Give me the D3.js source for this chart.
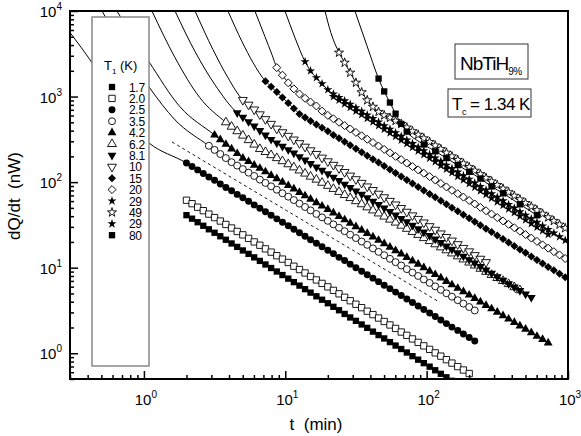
<!DOCTYPE html>
<html>
<head>
<meta charset="utf-8">
<script src="https://d3js.org/d3.v7.min.js"></script>
<style>
  body { margin: 0; background: #fff; }
  text { font-family: "Liberation Sans", Arial, Helvetica, sans-serif; fill: #000; white-space: pre; }
</style>
</head>
<body>
<svg width="581" height="436"></svg>
<script>
// measurement times (min), shared by all runs
const times = [2.00, 2.19, 2.40, 2.63, 2.88, 3.16, 3.47, 3.80, 4.17, 4.57,
  5.01, 5.50, 6.03, 6.61, 7.24, 7.94, 8.71, 9.55, 10.5, 11.5,
  12.6, 13.8, 15.1, 16.6, 18.2, 20.0, 21.9, 24.0, 26.3, 28.8,
  31.6, 34.7, 38.0, 41.7, 45.7, 50.1, 55.0, 60.3, 66.1, 72.4,
  79.4, 87.1, 95.5, 105, 115, 126, 138, 151, 166, 182,
  200, 219, 240, 263, 288, 316, 347, 380, 417, 457,
  501, 550, 603, 661, 724, 794, 871, 955];

// dQ/dt (nW) for each T1, starting at times[start]
const qT1_7 = [41.1, 37.4, 34.0, 30.9, 28.1, 25.6, 23.3, 21.2, 19.2, 17.5, 15.9, 14.5, 13.2, 12.0, 10.9,
  9.91, 9.02, 8.20, 7.45, 6.78, 6.17, 5.61, 5.11, 4.63, 4.22, 3.84, 3.49, 3.18, 2.88, 2.62, 2.39, 2.17,
  1.98, 1.79, 1.63, 1.49, 1.35, 1.23, 1.12, 1.02, 0.925, 0.841, 0.766, 0.697, 0.633, 0.575, 0.524, 0.476];
const qT2_0 = [61.4, 56.0, 50.9, 46.4, 42.3, 38.5, 35.1, 32.0, 29.1, 26.5, 24.2, 22.0, 20.0, 18.3, 16.6,
  15.2, 13.8, 12.6, 11.5, 10.4, 9.51, 8.67, 7.89, 7.19, 6.55, 5.97, 5.43, 4.95, 4.51, 4.11, 3.74, 3.41,
  3.10, 2.83, 2.58, 2.35, 2.14, 1.95, 1.77, 1.62, 1.47, 1.34, 1.22, 1.11, 1.01, 0.925, 0.841, 0.767, 0.698,
  0.637, 0.579];
const qT2_5 = [167, 152, 139, 126, 115, 105, 95.3, 86.7, 79.1, 71.9, 65.5, 59.6, 54.2, 49.4, 45.0, 40.9,
  37.2, 33.9, 30.9, 28.1, 25.6, 23.3, 21.2, 19.3, 17.6, 16.0, 14.6, 13.2, 12.1, 11.0, 10.0, 9.10, 8.28,
  7.55, 6.87, 6.25, 5.69, 5.18, 4.72, 4.30, 3.91, 3.56, 3.24, 2.95, 2.69, 2.44, 2.22, 2.02, 1.85, 1.68,
  1.53, 1.39];
const qT3_5 = [266, 238, 213, 191, 171, 156, 142, 129, 118, 107, 97.9, 89.3, 81.5, 74.1, 67.6, 61.7, 56.1,
  51.2, 46.7, 42.5, 38.7, 35.3, 32.1, 29.3, 26.7, 24.3, 22.2, 20.2, 18.5, 16.8, 15.3, 14.0, 12.7, 11.6,
  10.6, 9.62, 8.77, 8.00, 7.28, 6.64, 6.05, 5.51, 5.02, 4.58, 4.17, 3.80, 3.47, 3.16];
const qT4_2 = [355, 313, 277, 244, 216, 191, 174, 158, 145, 132, 120, 110, 100, 91.2, 83.2, 75.9, 69.2,
  63.1, 57.5, 52.5, 47.9, 43.7, 39.8, 36.3, 33.1, 30.2, 27.5, 25.1, 22.9, 20.9, 19.1, 17.4, 15.8, 14.5,
  13.2, 12.0, 11.0, 10.0, 9.12, 8.32, 7.59, 6.92, 6.31, 5.75, 5.25, 4.79, 4.37, 3.98, 3.63, 3.31, 3.02,
  2.75, 2.51, 2.29, 2.09, 1.91, 1.74, 1.58, 1.45, 1.32];
const qT6_2 = [501, 445, 394, 350, 310, 275, 244, 225, 207, 191, 176, 162, 149, 137, 126, 116, 107, 98.4,
  90.6, 83.4, 76.9, 70.8, 65.2, 60.0, 55.2, 50.8, 46.8, 43.1, 39.6, 36.5, 33.7, 31.0, 28.5, 26.2, 24.2,
  22.2, 20.5, 18.8, 17.3, 16.0, 14.7, 13.6, 12.5, 11.5, 10.6, 9.73, 8.95, 8.24, 7.59, 7.00, 6.44, 5.93, 5.46];
const qT8_1 = [646, 573, 508, 451, 400, 355, 315, 287, 262, 239, 218, 198, 181, 165, 150, 137, 125, 114,
  104, 94.6, 86.3, 78.7, 71.8, 65.5, 59.7, 54.5, 49.7, 45.2, 41.2, 37.6, 34.3, 31.3, 28.5, 26.0, 23.7,
  21.6, 19.7, 17.9, 16.4, 14.9, 13.6, 12.4, 11.3, 10.3, 9.40, 8.57, 7.82, 7.13, 6.50, 5.93, 5.41, 4.92, 4.49];
const qT10 = [912, 802, 705, 619, 544, 479, 421, 382, 347, 314, 285, 259, 235, 213, 193, 175, 159, 145,
  131, 119, 108, 97.9, 88.9, 80.7, 73.1, 66.4, 60.3, 54.7, 49.7, 45.0, 40.8, 37.1, 33.7, 30.5, 27.7, 25.1,
  22.8, 20.7, 18.8, 17.0, 15.5, 14.0, 12.7, 11.6];
const qT15 = [1514, 1306, 1127, 973, 839, 724, 625, 569, 519, 472, 431, 392, 356, 325, 296, 270, 245, 223,
  204, 185, 169, 154, 140, 128, 116, 106, 96.4, 87.7, 80.0, 72.8, 66.4, 60.4, 55.0, 50.1, 45.6, 41.6,
  37.8, 34.4, 31.4, 28.6, 26.1, 23.7, 21.6, 19.7, 17.9, 16.3, 14.9, 13.5, 12.3, 11.2, 10.2, 9.31, 8.47, 7.73];
const qT20 = [2178, 1778, 1445, 1230, 1072, 955, 861, 776, 676, 603, 550, 501, 458, 418, 381, 348, 317,
  290, 264, 241, 220, 200, 183, 167, 152, 139, 127, 116, 106, 96.4, 87.9, 80.2, 73.3, 66.8, 61.0, 55.6,
  50.7, 46.3, 42.3, 38.5, 35.2, 32.1, 29.3, 26.7, 24.4, 22.2, 20.3, 18.5, 16.9, 15.4, 14.1, 12.8];
const qT29a = [2560, 1995, 1660, 1413, 1202, 1072, 977, 891, 813, 741, 673, 611, 555, 504, 457, 416, 378,
  343, 311, 282, 256, 233, 211, 192, 175, 158, 144, 131, 119, 108, 97.7, 88.9, 80.7, 73.3, 66.5, 60.4,
  54.8, 49.8, 45.2, 41.1, 37.3, 33.9, 30.8, 27.9, 25.4, 23.0, 20.9];
const qT49 = [3260, 2490, 1900, 1452, 1122, 905, 759, 663, 604, 565, 520, 479, 435, 394, 358, 325, 295,
  268, 243, 221, 200, 182, 165, 150, 136, 124, 112, 102, 92.5, 83.9, 76.2, 69.2, 62.8, 57.0, 51.8, 47.0,
  42.7, 38.7, 35.2, 31.9, 29.0];
const qT29b = [1000, 908, 822, 746, 676, 614, 557, 505, 458, 415, 377, 342, 310, 281, 255, 231, 210, 190,
  173, 156, 142, 129, 117, 106, 96.0, 87.1, 79.1, 71.6, 65.0, 58.9, 53.5, 48.5, 44.0, 39.9, 36.1, 32.8,
  29.8, 27.0, 24.5];
const qT80 = [1622, 1148, 851, 631, 479, 389, null, null, 275, null, 229, null, 191, null, 158, null, 132,
  null, 110, null, 89, null, 74, null, null, 55, null, null, 41];

// early part of the fitted curves (before the first measured point)
const fitT25 = [0.3, 0.429, 0.796, 1.085], fitQ25 = [5600, 2490, 467, 287];
const fitT35 = [0.505, 1.085, 1.66], fitQ35 = [10000, 1300, 534];
const fitT42 = [0.644, 1.085, 1.80], fitQ42 = [10000, 2560, 759];
const fitT62 = [1.14, 1.66, 2.49], fitQ62 = [10000, 2850, 968];
const fitT81 = [1.66, 2.30, 3.18], fitQ81 = [10000, 3350, 1375];
const fitT10 = [2.30, 3.08, 3.93], fitQ10 = [10000, 3540, 1663];
const fitT15 = [3.93, 4.94, 5.91], fitQ15 = [10000, 4395, 2495];
const fitT20 = [6.10, 7.18, 8.05], fitQ20 = [10000, 5023, 3090];
const fitT29 = [9.95, 11.7], fitQ29 = [10000, 4890];
const fitT49 = [19.1, 21.0], fitQ49 = [10000, 5600];
const fitT80 = [31.1, 37.8], fitQ80 = [10000, 3940];

// t^-1 guide line
const dashT = [1.58, 124], dashQ = [295, 3.93];

const xMajor = [1, 10, 100, 1000];
const yMajor = [1, 10, 100, 1000, 10000];

const series = [
  {label: "1.7", shape: "square", open: false, start: 0, q: qT1_7},
  {label: "2.0", shape: "square", open: true, start: 0, q: qT2_0},
  {label: "2.5", shape: "circle", open: false, start: 0, q: qT2_5, ft: fitT25, fq: fitQ25},
  {label: "3.5", shape: "circle", open: true, start: 4, q: qT3_5, ft: fitT35, fq: fitQ35},
  {label: "4.2", shape: "triUp", open: false, start: 5, q: qT4_2, ft: fitT42, fq: fitQ42},
  {label: "6.2", shape: "triUp", open: true, start: 7, q: qT6_2, ft: fitT62, fq: fitQ62},
  {label: "8.1", shape: "triDown", open: false, start: 9, q: qT8_1, ft: fitT81, fq: fitQ81},
  {label: "10", shape: "triDown", open: true, start: 10, q: qT10, ft: fitT10, fq: fitQ10},
  {label: "15", shape: "diamond", open: false, start: 14, q: qT15, ft: fitT15, fq: fitQ15},
  {label: "20", shape: "diamond", open: true, start: 16, q: qT20, ft: fitT20, fq: fitQ20},
  {label: "29", shape: "star", open: false, start: 21, q: qT29a, ft: fitT29, fq: fitQ29},
  {label: "49", shape: "star", open: true, start: 27, q: qT49, ft: fitT49, fq: fitQ49},
  {label: "29", shape: "star", open: false, start: 26, q: qT29b},
  {label: "80", shape: "square", open: false, start: 34, q: qT80, ft: fitT80, fq: fitQ80}
];

const svg = d3.select("svg");
const plotL = 70, plotR = 568, plotT = 11, plotB = 379;

const x = d3.scaleLog().domain([0.3, 1000]).range([plotL, plotR]);
const y = d3.scaleLog().domain([0.5, 10000]).range([plotB, plotT]);

svg.append("defs").append("clipPath").attr("id", "plotclip")
  .append("rect").attr("x", plotL).attr("y", plotT).attr("width", plotR - plotL).attr("height", plotB - plotT);

function points(s) {
  const pts = [];
  s.q.forEach((v, i) => { if (v != null) pts.push([times[s.start + i], v]); });
  return pts;
}

const symType = {square: d3.symbolSquare, circle: d3.symbolCircle, triUp: d3.symbolTriangle,
  triDown: d3.symbolTriangle, diamond: d3.symbolSquare, star: d3.symbolStar};
const symSize = {square: 40, circle: 38, triUp: 34, triDown: 34, diamond: 32, star: 26};
const symRot = {square: 0, circle: 0, triUp: 0, triDown: 180, diamond: 45, star: 0};

function drawMark(g, s, px, py) {
  g.append("path")
    .attr("d", d3.symbol(symType[s.shape], symSize[s.shape])())
    .attr("transform", "translate(" + px + "," + py + ") rotate(" + symRot[s.shape] + ")")
    .attr("fill", s.open ? "#fff" : "#000")
    .attr("stroke", s.open ? "#000" : "none")
    .attr("stroke-width", 0.9);
}

const plot = svg.append("g").attr("clip-path", "url(#plotclip)");

// fitted curves
const line = d3.line().x(d => x(d[0])).y(d => y(d[1])).curve(d3.curveMonotoneX);
series.forEach(s => {
  if (!s.ft) return;
  const head = s.ft.map((t, i) => [t, s.fq[i]]);
  plot.append("path")
    .attr("d", line(head.concat(points(s))))
    .attr("fill", "none").attr("stroke", "#000").attr("stroke-width", 1);
});

// dashed guide
plot.append("path")
  .attr("d", d3.line().x(d => x(d[0])).y(d => y(d[1]))(dashT.map((t, i) => [t, dashQ[i]])))
  .attr("fill", "none").attr("stroke", "#000").attr("stroke-width", 0.9)
  .attr("stroke-dasharray", "3,3");

// data points
series.forEach(s => {
  const g = plot.append("g");
  points(s).forEach(p => drawMark(g, s, x(p[0]), y(p[1])));
});

// axes: ticks pointing inward
const xMinor = x.ticks().filter(v => xMajor.indexOf(v) < 0);
const yMinor = y.ticks().filter(v => yMajor.indexOf(v) < 0);

function styleAxis(g) {
  g.select(".domain").remove();
  g.selectAll("line").attr("stroke", "#000").attr("stroke-width", 1.5);
}
svg.append("g").attr("transform", "translate(0," + plotB + ")")
  .call(d3.axisBottom(x).tickValues(xMinor).tickSize(-4).tickFormat("")).call(styleAxis);
svg.append("g").attr("transform", "translate(0," + plotB + ")")
  .call(d3.axisBottom(x).tickValues(xMajor).tickSize(-8).tickFormat("")).call(styleAxis);
svg.append("g").attr("transform", "translate(" + plotL + ",0)")
  .call(d3.axisLeft(y).tickValues(yMinor).tickSize(-4).tickFormat("")).call(styleAxis);
svg.append("g").attr("transform", "translate(" + plotL + ",0)")
  .call(d3.axisLeft(y).tickValues(yMajor).tickSize(-8).tickFormat("")).call(styleAxis);

svg.append("rect").attr("x", plotL).attr("y", plotT).attr("width", plotR - plotL).attr("height", plotB - plotT)
  .attr("fill", "none").attr("stroke", "#000").attr("stroke-width", 2);

// tick labels 10^n
xMajor.forEach(v => {
  const t = svg.append("text").attr("x", x(v) + 2).attr("y", 405)
    .attr("text-anchor", "middle").style("font-size", "15px");
  t.append("tspan").text("10");
  t.append("tspan").attr("dy", -7).style("font-size", "10px").text(Math.round(Math.log10(v)));
});
yMajor.forEach(v => {
  const t = svg.append("text").attr("x", 62).attr("y", y(v) + 6)
    .attr("text-anchor", "end").style("font-size", "15px");
  t.append("tspan").text("10");
  t.append("tspan").attr("dy", -7).style("font-size", "10px").text(Math.round(Math.log10(v)));
});

// axis titles
svg.append("text").attr("x", 316).attr("y", 430).attr("text-anchor", "middle")
  .style("font-size", "17px").text("t  (min)");
svg.append("text").attr("transform", "translate(20,196) rotate(-90)").attr("text-anchor", "middle")
  .style("font-size", "17px").text("dQ/dt  (nW)");

// legend
const lg = svg.append("g");
lg.append("rect").attr("x", 92).attr("y", 17).attr("width", 57).attr("height", 349)
  .attr("fill", "#fff").attr("stroke", "#888").attr("stroke-width", 1.5);
const lt = lg.append("text").attr("x", 104).attr("y", 70).style("font-size", "13px");
lt.append("tspan").text("T");
lt.append("tspan").attr("dy", 4).style("font-size", "8px").text("1");
lt.append("tspan").attr("dy", -4).text(" (K)");
series.forEach((s, i) => {
  const yy = 87 + i * 11.4;
  drawMark(lg, s, 112, yy);
  lg.append("text").attr("x", 129).attr("y", yy + 4.5).style("font-size", "12px")
    .style("letter-spacing", "-0.3px").text(s.label);
});

// sample and Tc boxes
svg.append("rect").attr("x", 455).attr("y", 44).attr("width", 73).attr("height", 35)
  .attr("fill", "#fff").attr("stroke", "#333").attr("stroke-width", 1);
const nb = svg.append("text").attr("x", 460).attr("y", 70).style("font-size", "19px")
  .style("letter-spacing", "-1px");
nb.append("tspan").text("NbTiH");
nb.append("tspan").attr("dy", 5).style("font-size", "10px").style("letter-spacing", "-0.5px").text("9%");

svg.append("rect").attr("x", 448).attr("y", 89).attr("width", 83).attr("height", 28)
  .attr("fill", "#fff").attr("stroke", "#333").attr("stroke-width", 1);
const tc = svg.append("text").attr("x", 452).attr("y", 110).style("font-size", "17px")
  .style("letter-spacing", "-0.5px");
tc.append("tspan").text("T");
tc.append("tspan").attr("dy", 5).style("font-size", "9px").text("c");
tc.append("tspan").attr("dy", -5).text(" = 1.34 K");
</script>
</body>
</html>
